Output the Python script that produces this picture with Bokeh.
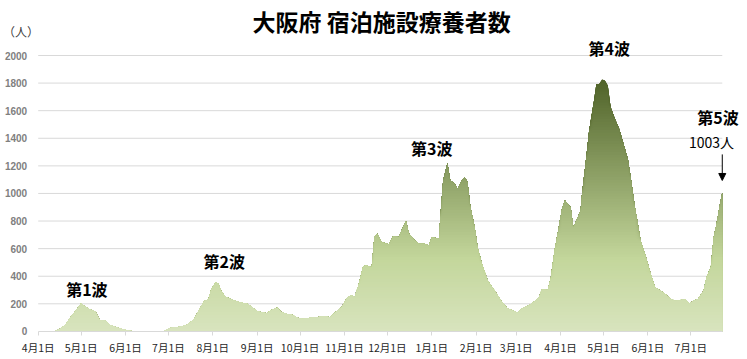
import numpy as np
import pandas as pd
from bokeh.plotting import figure
from bokeh.models import Range1d, FixedTicker, Label, Arrow, NormalHead
from bokeh.embed import file_html
from bokeh.resources import INLINE

# ---- data ----
dates = [
    "2020-04-01", "2020-04-12", "2020-04-16", "2020-04-20", "2020-04-23", "2020-04-28",
    "2020-05-01", "2020-05-04", "2020-05-07", "2020-05-11", "2020-05-14", "2020-05-18",
    "2020-05-21", "2020-05-26", "2020-05-31", "2020-06-04", "2020-06-09", "2020-06-27",
    "2020-07-02", "2020-07-09", "2020-07-14", "2020-07-19", "2020-07-22", "2020-07-26",
    "2020-07-29", "2020-07-31", "2020-08-03", "2020-08-05", "2020-08-07", "2020-08-10",
    "2020-08-15", "2020-08-20", "2020-08-25", "2020-08-28", "2020-09-01", "2020-09-04",
    "2020-09-08", "2020-09-11", "2020-09-15", "2020-09-18", "2020-09-22", "2020-09-25",
    "2020-09-29", "2020-10-03", "2020-10-08", "2020-10-13", "2020-10-17", "2020-10-22",
    "2020-10-27", "2020-10-30", "2020-11-03", "2020-11-06", "2020-11-08", "2020-11-11",
    "2020-11-14", "2020-11-16", "2020-11-20", "2020-11-22", "2020-11-24", "2020-11-27",
    "2020-12-02", "2020-12-05", "2020-12-09", "2020-12-11", "2020-12-14", "2020-12-16",
    "2020-12-20", "2020-12-23", "2020-12-27", "2020-12-30", "2021-01-01", "2021-01-06",
    "2021-01-07", "2021-01-09", "2021-01-12", "2021-01-14", "2021-01-17", "2021-01-19",
    "2021-01-22", "2021-01-24", "2021-01-26", "2021-01-28", "2021-01-31", "2021-02-02",
    "2021-02-05", "2021-02-09", "2021-02-12", "2021-02-16", "2021-02-19", "2021-02-23",
    "2021-02-26", "2021-03-02", "2021-03-05", "2021-03-10", "2021-03-15", "2021-03-17",
    "2021-03-19", "2021-03-23", "2021-03-25", "2021-03-28", "2021-03-30", "2021-04-02",
    "2021-04-04", "2021-04-06", "2021-04-08", "2021-04-10", "2021-04-12", "2021-04-15",
    "2021-04-16", "2021-04-19", "2021-04-21", "2021-04-24", "2021-04-26", "2021-04-28",
    "2021-04-30", "2021-05-02", "2021-05-04", "2021-05-06", "2021-05-09", "2021-05-12",
    "2021-05-15", "2021-05-18", "2021-05-20", "2021-05-23", "2021-05-27", "2021-05-30",
    "2021-06-03", "2021-06-06", "2021-06-10", "2021-06-13", "2021-06-17", "2021-06-20",
    "2021-06-24", "2021-06-27", "2021-06-30", "2021-07-03", "2021-07-06", "2021-07-10",
    "2021-07-12", "2021-07-15", "2021-07-17", "2021-07-19", "2021-07-21", "2021-07-23",
]
patients = [
    0, 0, 17, 48, 96, 160,
    204, 178, 160, 144, 82, 77,
    48, 29, 14, 5, 0, 0,
    24, 34, 48, 89, 149, 221,
    233, 308, 356, 345, 290, 252,
    228, 212, 200, 180, 147, 139,
    132, 156, 171, 139, 127, 123,
    99, 91, 99, 103, 111, 103,
    151, 175, 248, 264, 248, 340,
    470, 480, 465, 690, 708, 648,
    631, 689, 684, 733, 800, 709,
    660, 636, 636, 624, 684, 672,
    829, 1094, 1219, 1094, 1070, 1034,
    1094, 1118, 1082, 901, 757, 612,
    492, 371, 323, 263, 214, 166,
    154, 135, 166, 190, 227, 250,
    305, 300, 375, 600, 710, 888,
    948, 924, 900, 754, 803, 875,
    996, 1262, 1456, 1649, 1794, 1794,
    1826, 1818, 1782, 1625, 1540, 1468,
    1359, 1250, 1117, 900, 658, 561,
    416, 319, 295, 271, 235, 222,
    227, 235, 203, 222, 235, 295,
    392, 464, 682, 779, 900, 1003,
]

month_ticks = [
    "2020-04-01", "2020-05-01", "2020-06-01", "2020-07-01", "2020-08-01", "2020-09-01",
    "2020-10-01", "2020-11-01", "2020-12-01", "2021-01-01", "2021-02-01", "2021-03-01",
    "2021-04-01", "2021-05-01", "2021-06-01", "2021-07-01",
]
month_labels = [
    "4月1日", "5月1日", "6月1日", "7月1日", "8月1日", "9月1日",
    "10月1日", "11月1日", "12月1日", "1月1日", "2月1日", "3月1日",
    "4月1日", "5月1日", "6月1日", "7月1日",
]
y_ticks = [0, 200, 400, 600, 800, 1000, 1200, 1400, 1600, 1800, 2000]

wave_labels = ["第1波", "第2波", "第3波", "第4波", "第5波"]
wave_label_dates = ["2020-05-05", "2020-08-09", "2021-01-01", "2021-05-05", "2021-07-20"]
wave_label_values = [304, 510, 1330, 2051, 1553]

title_text = "大阪府 宿泊施設療養者数"
unit_text = "（人）"

# ---- derived positions through a numeric day scale ----
START = pd.Timestamp("2020-04-01")


def to_day(ds):
    return (pd.to_datetime(ds) - START).days.to_numpy(dtype=float)


x = to_day(dates)
y = np.array(patients, dtype=float)
tick_x = to_day(month_ticks)
wave_x = to_day(wave_label_dates)

W, H = 747, 359
p = figure(width=W, height=H, output_backend="svg", toolbar_location=None,
           x_range=Range1d(-26.34, 495.63), y_range=Range1d(-203.7, 2398.7), title=None,
           min_border_left=0, min_border_right=0, min_border_top=0, min_border_bottom=0)
p.outline_line_color = None
p.background_fill_color = "white"
p.border_fill_color = "white"
p.xgrid.visible = False
p.ygrid.visible = False

# ---- horizontal gridlines, limited to the plotted period ----
grid_y = y_ticks[1:]
p.segment(x0=[x[0]] * len(grid_y), y0=grid_y, x1=[x[-1]] * len(grid_y), y1=grid_y,
          line_color="#d9d9d9", line_width=1, level="underlay")

# ---- vertical gradient fill via stacked bands ----
stops = [(0.0, (216, 228, 190)), (530.0, (195, 214, 155)), (1830.0, (79, 98, 40))]


def grad(v):
    for (v0, c0), (v1, c1) in zip(stops[:-1], stops[1:]):
        if v <= v1:
            t = (v - v0) / (v1 - v0)
            return "#%02x%02x%02x" % tuple(int(round(a + (b - a) * t)) for a, b in zip(c0, c1))
    return "#%02x%02x%02x" % stops[-1][1]


step = 20
levels = np.arange(step, 1860 + step, step)
for hi in levels[::-1]:
    col = grad(hi - step / 2)
    p.varea(x=x, y1=0, y2=np.minimum(y, hi), fill_color=col)

# ---- axes (fixed at the chart's origin) ----
yax = p.yaxis[0]
yax.fixed_location = 0
yax.ticker = FixedTicker(ticks=y_ticks)
yax.axis_line_color = None
yax.major_tick_line_color = None
yax.major_tick_in = 0
yax.major_tick_out = 0
yax.minor_tick_line_color = None
yax.major_label_text_font = "Liberation Sans"
yax.major_label_text_font_style = "bold"
yax.major_label_text_font_size = "10px"
yax.major_label_text_color = "#808080"
yax.major_label_standoff = 11

xax = p.xaxis[0]
xax.fixed_location = 0
xax.bounds = (x[0], x[-1])
xax.ticker = FixedTicker(ticks=list(tick_x))
xax.major_label_overrides = {float(t): lab for t, lab in zip(tick_x, month_labels)}
xax.axis_line_color = "#d9d9d9"
xax.major_tick_line_color = "#d9d9d9"
xax.major_tick_in = 0
xax.major_tick_out = 4
xax.minor_tick_line_color = None
xax.major_label_text_font = "Noto Sans CJK JP"
xax.major_label_text_font_size = "10.5px"
xax.major_label_text_color = "#262626"
xax.major_label_standoff = 5

# ---- texts ----
p.add_layout(Label(x=239.9, y=2253, text=title_text, text_font="Noto Sans CJK JP",
                   text_font_style="bold", text_font_size="23px", text_color="black",
                   text_align="center", text_baseline="middle"))
p.add_layout(Label(x=-12, y=2174, text=unit_text, text_font="Noto Sans CJK JP",
                   text_font_size="12px", text_color="#404040",
                   text_align="center", text_baseline="middle"))
for lab, wx, wv in zip(wave_labels, wave_x, wave_label_values):
    p.add_layout(Label(x=wx, y=wv, text=lab, text_font="Noto Sans CJK JP",
                       text_font_style="bold", text_font_size="16px", text_color="black",
                       text_align="center", text_baseline="middle"))

p.add_layout(Label(x=x[-1] - 7.5, y=1372, text=f"{patients[-1]}人",
                   text_font="Noto Sans CJK JP", text_font_size="14px",
                   text_color="black", text_align="center", text_baseline="middle"))
p.add_layout(Arrow(x_start=x[-1], y_start=1283, x_end=x[-1], y_end=1094,
                   line_color="black", line_width=1,
                   end=NormalHead(size=7, fill_color="black", line_color="black")))

open("out.html", "w").write(file_html(p, INLINE))
